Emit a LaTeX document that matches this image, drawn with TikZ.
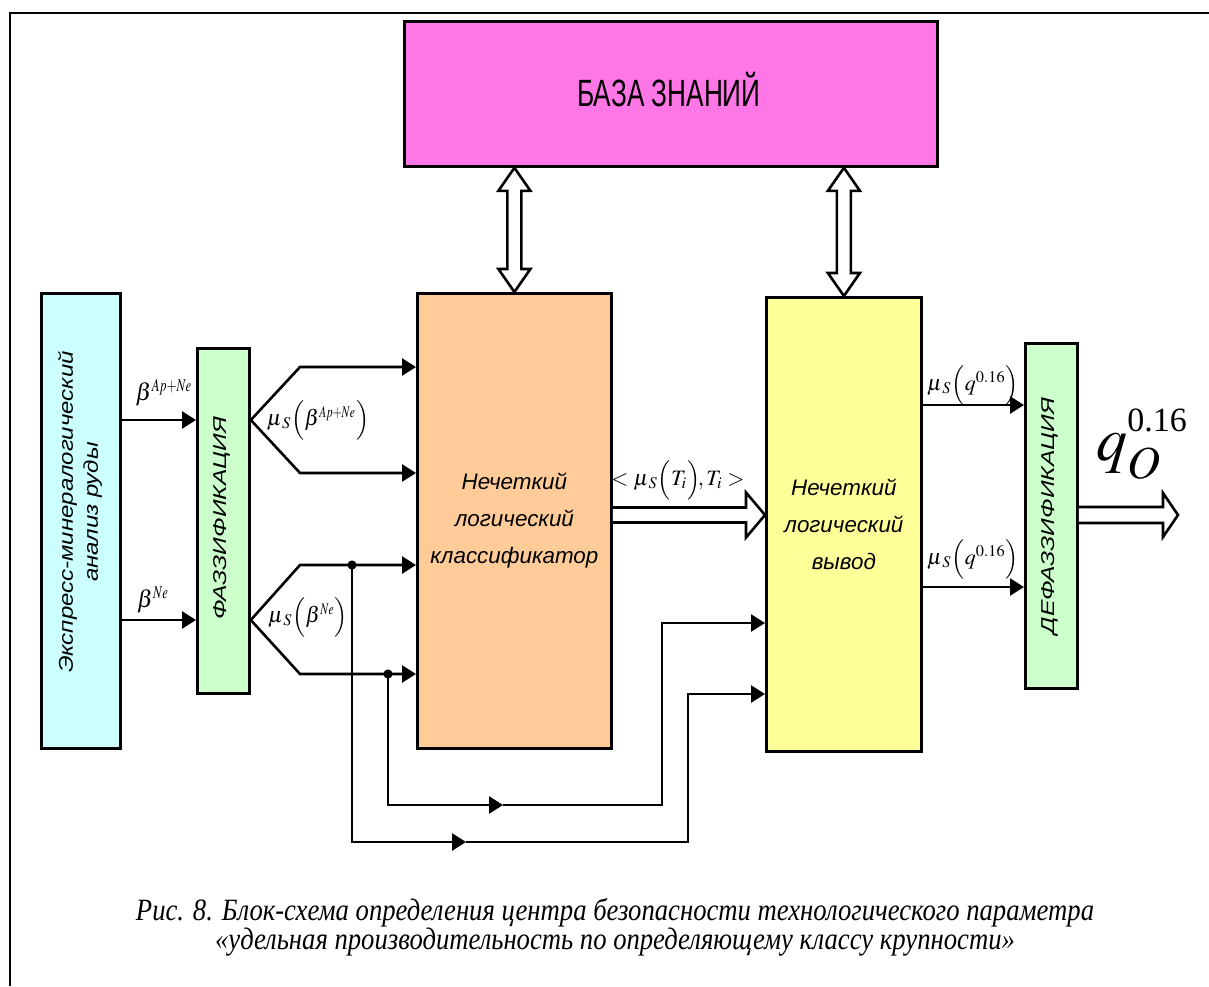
\documentclass[tikz,border=0pt]{standalone}
\usepackage{mathptmx}
\usepackage{fontspec}
\setmainfont{Liberation Serif}
\setsansfont{Liberation Sans}
\newfontfamily\kbfont[FakeStretch=0.69]{Liberation Sans}
\newfontfamily\fuzzfont[FakeStretch=1.33]{Liberation Sans}
\newfontfamily\exprfont[FakeStretch=1.2]{Liberation Sans}
\newfontfamily\capfont[FakeStretch=0.86]{Liberation Serif}
\usetikzlibrary{calc,arrows.meta}
\definecolor{kbpink}{RGB}{255,119,230}
\definecolor{exprcyan}{RGB}{204,255,255}
\definecolor{fuzzgreen}{RGB}{204,255,204}
\definecolor{clsorange}{RGB}{255,204,153}
\definecolor{infyellow}{RGB}{255,255,153}
\begin{document}
\begin{tikzpicture}[x=0.5pt,y=-0.5pt,
    box/.style={draw, line width=1.4pt, anchor=north west, inner sep=0pt},
    arr/.style={line width=1.3pt, -{Triangle[length=7pt,width=8.5pt]}},
    hollow/.style={draw, fill=white, line width=1.3pt, line join=miter},
    lbl/.style={inner sep=0pt, font=\fontsize{11}{13}\selectfont}]
\useasboundingbox (0,0) rectangle (1209,986);
\draw[line width=1pt] (10,986) -- (10,13) -- (1209,13);
% blocks
\node[box, fill=kbpink, minimum width=266.5pt, minimum height=72.5pt] (kb) at (403,20) {};
\node[box, fill=exprcyan, minimum width=39.5pt, minimum height=227.5pt] (expr) at (40,292) {};
\node[box, fill=fuzzgreen, minimum width=26pt, minimum height=172.5pt] (fuzz) at (196,347) {};
\node[box, fill=clsorange, minimum width=97pt, minimum height=227.5pt, align=center,
      font=\sffamily\itshape\fontsize{11.2}{18.5}\selectfont] (cls) at (416,292) {Нечеткий\\логический\\классификатор};
\node[box, fill=infyellow, minimum width=77.5pt, minimum height=227pt, align=center,
      font=\sffamily\itshape\fontsize{11.2}{18.5}\selectfont] (inf) at (765,296) {Нечеткий\\логический\\вывод};
\node[box, fill=fuzzgreen, minimum width=26pt, minimum height=172.5pt] (defz) at (1024,342) {};
% block texts
\node[font=\kbfont\fontsize{19}{22}\selectfont] (kbtext) at (669,90) {БАЗА ЗНАНИЙ};
\node[rotate=90, align=center, font=\exprfont\itshape\fontsize{10}{12.5}\selectfont] (exprtext) at (80,512)
    {Экспресс-минералогический\\анализ руды};
\node[rotate=90, font=\fuzzfont\itshape\fontsize{9.3}{11}\selectfont] (fuzztext) at (222,518) {ФАЗЗИФИКАЦИЯ};
\node[rotate=90, font=\fuzzfont\itshape\fontsize{9.3}{11}\selectfont] (defztext) at (1050,516) {ДЕФАЗЗИФИКАЦИЯ};
% inputs
\draw[arr] (expr.east |- 0,420) -- (fuzz.west |- 0,420);
\draw[arr] (expr.east |- 0,620) -- (fuzz.west |- 0,620);
\node[lbl, font=\fontsize{12}{14}\selectfont] (b1) at (164,393) {$\beta^{\scalebox{0.7}[1]{$\scriptstyle Ap{+}Ne$}}$};
\node[lbl, font=\fontsize{12}{14}\selectfont] (b2) at (153,600) {$\beta^{\scalebox{0.7}[1]{$\scriptstyle Ne$}}$};
% fuzzified outputs
\draw[arr] (fuzz.east |- 0,420) -- (300,367) -- (cls.west |- 0,367);
\draw[arr] (fuzz.east |- 0,420) -- (300,473) -- (cls.west |- 0,473);
\draw[arr] (fuzz.east |- 0,620) -- (300,565) -- (cls.west |- 0,565);
\draw[arr] (fuzz.east |- 0,620) -- (300,674) -- (cls.west |- 0,674);
\node[lbl] (m1) at (318,420) {$\mu_{\kern1pt S}\Bigl(\beta^{\scalebox{0.7}[1]{$\scriptstyle Ap{+}Ne$}}\Bigr)$};
\node[lbl] (m2) at (308,617) {$\mu_{\kern1pt S}\Bigl(\beta^{\scalebox{0.7}[1]{$\scriptstyle Ne$}}\Bigr)$};
% bypass to inference
\coordinate (j1) at (352,565);
\coordinate (j2) at (388,674);
\fill (j1) circle[radius=2.3pt];
\fill (j2) circle[radius=2.3pt];
\draw[arr] (j2) |- (503,805);
\draw[arr] (503,805) -| (662,623) -- (inf.west |- 0,623);
\draw[arr] (j1) |- (466,842);
\draw[arr] (466,842) -| (688,694) -- (inf.west |- 0,694);
% knowledge base links
\coordinate (dl1) at (kb.south -| cls.north);
\coordinate (dl2) at (cls.north);
\draw[hollow] (dl1) -- ++(16,23) -- ++(-9,0) -- ($(dl2)+(7,-23)$) -- ++(9,0) -- (dl2)
    -- ++(-16,-23) -- ++(9,0) -- ($(dl1)+(-7,23)$) -- ++(-9,0) -- cycle;
\coordinate (dr1) at (kb.south -| inf.north);
\coordinate (dr2) at (inf.north);
\draw[hollow] (dr1) -- ++(16,23) -- ++(-9,0) -- ($(dr2)+(7,-23)$) -- ++(9,0) -- (dr2)
    -- ++(-16,-23) -- ++(9,0) -- ($(dr1)+(-7,23)$) -- ++(-9,0) -- cycle;
% classifier to inference
\coordinate (h1) at (cls.east |- 0,515);
\coordinate (h2) at (inf.west |- 0,515);
\draw[hollow] ($(h1)+(0,-7.5)$) -- ($(h2)+(-19,-7.5)$) -- ++(0,-15) -- (h2)
    -- ++(-19,22.5) -- ++(0,-15) -- ($(h1)+(0,7.5)$);
\node[lbl] (ti) at (678,480) {$<\mu_{\kern1pt S}\Bigl(T_i\Bigr)\!,T_i>$};
% inference to defuzzification
\draw[arr] (inf.east |- 0,405) -- (defz.west |- 0,405);
\draw[arr] (inf.east |- 0,587) -- (defz.west |- 0,587);
\node[lbl] (q1) at (973,385) {$\mu_{\kern1pt S}\Bigl(q^{0.16}\Bigr)$};
\node[lbl] (q2) at (973,559) {$\mu_{\kern1pt S}\Bigl(q^{0.16}\Bigr)$};
% output
\coordinate (o1) at (defz.east |- 0,515);
\coordinate (o2) at (1178,515);
\draw[hollow] ($(o1)+(0,-8)$) -- ($(o2)+(-15,-8)$) -- ++(0,-14) -- (o2)
    -- ++(-15,22) -- ++(0,-14) -- ($(o1)+(0,8)$);
\node[lbl, font=\fontsize{31}{34}\selectfont] (qo) at (1142,444)
    {$q_O^{\raisebox{3pt}{\fontsize{17}{17}\selectfont 0.16}}$};
% caption
\node[align=center, font=\capfont\itshape\fontsize{15.5}{14.5}\selectfont] (cap) at (615,927)
    {Рис. 8. Блок-схема определения центра безопасности технологического параметра\\
     «удельная производительность по определяющему классу крупности»};
\end{tikzpicture}
\end{document}
